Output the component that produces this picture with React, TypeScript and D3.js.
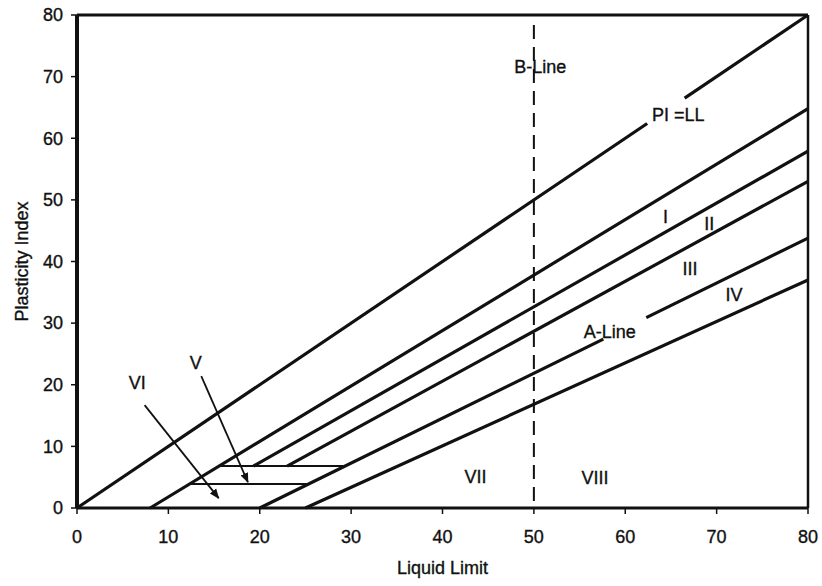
import React from "react";
import * as d3 from "d3";

const W = 822;
const H = 586;
const X0 = 77, X1 = 808, Y0 = 508, Y1 = 15;

const xTicks = [0, 10, 20, 30, 40, 50, 60, 70, 80];
const yTicks = [0, 10, 20, 30, 40, 50, 60, 70, 80];

// boundary lines: [LL, PI] points
const piEqualsLL: [number, number][][] = [[[0, 0], [62.4, 62.4]], [[66.5, 66.5], [80, 80]]];
const uLine: [number, number][][] = [[[8, 0], [80, 64.8]]];
const lineI: [number, number][][] = [[[19.3, 6.8], [80, 57.9]]];
const lineII: [number, number][][] = [[[23.0, 6.8], [80, 53]]];
const aLine: [number, number][][] = [[[20, 0], [57.6, 27.4]], [[62.3, 30.9], [80, 43.8]]];
const lineVII: [number, number][][] = [[[25, 0], [80, 37]]];
const horizontals: [number, number][][] = [[[15.6, 6.8], [29.3, 6.8]], [[12.3, 3.9], [25.3, 3.9]]];
const bLineLL = 50;

const arrows: [number, number][][] = [
  [[7.4, 16.7], [15.5, 1.6]],
  [[13.6, 21.4], [18.7, 4.2]],
];

const labels: { text: string; ll: number; pi: number }[] = [
  { text: "B-Line", ll: 50.7, pi: 71.6 },
  { text: "PI =LL", ll: 65.8, pi: 63.8 },
  { text: "I", ll: 64.4, pi: 47.2 },
  { text: "II", ll: 69.2, pi: 46.2 },
  { text: "III", ll: 67.1, pi: 38.9 },
  { text: "IV", ll: 71.9, pi: 34.6 },
  { text: "A-Line", ll: 58.3, pi: 28.6 },
  { text: "VII", ll: 43.6, pi: 5.0 },
  { text: "VIII", ll: 56.7, pi: 4.9 },
  { text: "VI", ll: 6.6, pi: 20.4 },
  { text: "V", ll: 13.0, pi: 23.5 },
];

const FONT = "'Liberation Sans', Arial, sans-serif";
const FS = 18;
const textStyle = { fontFamily: FONT, fontSize: FS, fill: "#111", stroke: "#111", strokeWidth: 0.35 };

export default function App() {
  const x = d3.scaleLinear().domain([0, 80]).range([X0, X1]);
  const y = d3.scaleLinear().domain([0, 80]).range([Y0, Y1]);
  const line = d3.line<[number, number]>().x((d) => x(d[0])).y((d) => y(d[1]));

  const thick = [piEqualsLL, uLine, lineI, lineII, aLine, lineVII];

  return (
    <svg width={W} height={H} style={{ position: "absolute", left: 0, top: 0, background: "#fff" }}>
      <defs>
        <marker id="ah" viewBox="0 0 10 10" refX="9" refY="5" markerWidth="10" markerHeight="10" orient="auto" markerUnits="userSpaceOnUse">
          <path d="M0,1 L10,5 L0,9 Z" fill="#111" />
        </marker>
      </defs>
      <rect x={0} y={0} width={W} height={H} fill="#fff" />
      {/* B-line */}
      <line x1={x(bLineLL)} x2={x(bLineLL)} y1={y(80) + 10} y2={y(0)} stroke="#111" strokeWidth={2} strokeDasharray="14,8" />
      {thick.map((segs, i) =>
        segs.map((s, j) => (
          <path key={`t${i}-${j}`} d={line(s) || ""} stroke="#111" strokeWidth={3.2} fill="none" />
        ))
      )}
      {horizontals.map((s, i) => (
        <path key={`h${i}`} d={line(s) || ""} stroke="#111" strokeWidth={2} fill="none" />
      ))}
      {arrows.map((s, i) => (
        <path key={`a${i}`} d={line(s) || ""} stroke="#111" strokeWidth={1.8} fill="none" markerEnd="url(#ah)" />
      ))}
      {/* frame */}
      <line x1={X0} x2={X0} y1={Y1} y2={Y0} stroke="#111" strokeWidth={4} />
      <line x1={X0} x2={X1} y1={Y1} y2={Y1} stroke="#111" strokeWidth={3} />
      <line x1={X1} x2={X1} y1={Y1} y2={Y0} stroke="#111" strokeWidth={2.5} />
      <line x1={X0} x2={X1} y1={Y0} y2={Y0} stroke="#111" strokeWidth={3} />
      {/* ticks */}
      {xTicks.map((t) => (
        <g key={`xt${t}`}>
          <line x1={x(t)} x2={x(t)} y1={Y0} y2={Y0 + 6} stroke="#111" strokeWidth={1.5} />
          <text x={x(t)} y={543} textAnchor="middle" style={textStyle}>{t}</text>
        </g>
      ))}
      {yTicks.map((t) => (
        <g key={`yt${t}`}>
          <line x1={X0 - 6} x2={X0} y1={y(t)} y2={y(t)} stroke="#111" strokeWidth={1.5} />
          <text x={63} y={y(t)} dy="0.35em" textAnchor="end" style={textStyle}>{t}</text>
        </g>
      ))}
      <text x={(X0 + X1) / 2} y={574} textAnchor="middle" style={textStyle}>Liquid Limit</text>
      <text transform={`translate(28, ${(Y0 + Y1) / 2}) rotate(-90)`} textAnchor="middle" style={textStyle}>Plasticity Index</text>
      {labels.map((l, i) => (
        <text key={`l${i}`} x={x(l.ll)} y={y(l.pi)} dy="0.35em" textAnchor="middle" style={textStyle}>{l.text}</text>
      ))}
    </svg>
  );
}
